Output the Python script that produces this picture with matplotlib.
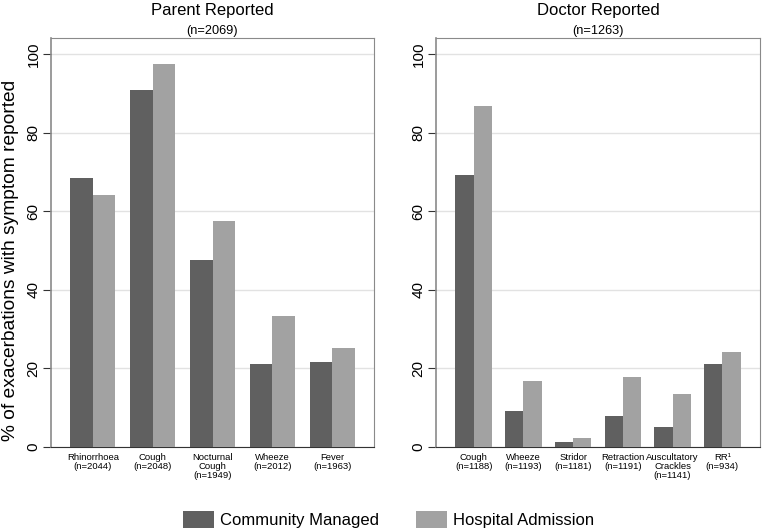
import matplotlib
matplotlib.use("Agg")
import matplotlib.pyplot as plt
import numpy as np
from matplotlib.patches import Patch

plt.rcParams['font.family'] = ['Liberation Sans', 'DejaVu Sans']

parent_labels = ["Rhinorrhoea\n(n=2044)", "Cough\n(n=2048)", "Nocturnal\nCough\n(n=1949)",
                 "Wheeze\n(n=2012)", "Fever\n(n=1963)"]
parent_cm = [68.4, 90.9, 47.6, 21.2, 21.6]
parent_ha = [64.1, 97.5, 57.5, 33.3, 25.2]

doctor_labels = ["Cough\n(n=1188)", "Wheeze\n(n=1193)", "Stridor\n(n=1181)", "Retraction\n(n=1191)",
                 "Auscultatory\nCrackles\n(n=1141)", "RR\u00b9\n(n=934)"]
doctor_cm = [69.3, 9.1, 1.2, 7.8, 5.1, 21.1]
doctor_ha = [86.9, 16.9, 2.2, 17.9, 13.5, 24.2]

yticks = [0, 20, 40, 60, 80, 100]
series_names = ["Community Managed", "Hospital Admission"]
c_cm = "#606060"
c_ha = "#a2a2a2"

fig = plt.figure(figsize=(7.62, 5.31), dpi=100)
W, H = 762, 531

def panel(rect, labels, cm, ha, title, sub, width, margin):
    ax = fig.add_axes(rect)
    x = np.arange(len(labels))
    ax.bar(x - width / 2, cm, width, color=c_cm, zorder=3)
    ax.bar(x + width / 2, ha, width, color=c_ha, zorder=3)
    ax.set_xlim(-margin, len(labels) - 1 + margin)
    ax.set_ylim(0, 104.1)
    ax.set_yticks(yticks)
    ax.set_yticklabels([str(v) for v in yticks], rotation=90, va='center', fontsize=11)
    ax.tick_params(axis='y', direction='out', length=6, width=0.8, color='#333333', pad=1.5)
    ax.set_xticks(x)
    ax.set_xticklabels(labels, fontsize=6.8, linespacing=1.0)
    ax.tick_params(axis='x', length=0, pad=4)
    ax.grid(axis='y', color='#e2e2e2', linewidth=1.0, zorder=0)
    for s in ax.spines.values():
        s.set_color('#8a8a8a')
        s.set_linewidth(0.8)
    ax.spines['left'].set_linewidth(1.2)
    ax.spines['bottom'].set_color('#333333')
    ax.set_title(sub, fontsize=9.2, pad=3)
    ax.text(0.5, 1.0 + 20 / 409, title, transform=ax.transAxes, ha='center', va='bottom',
            fontsize=12)
    return ax

ax1 = panel([51 / W, 84 / H, 323 / W, 409 / H], parent_labels, parent_cm, parent_ha,
            "Parent Reported", "(n=2069)", 0.376, 0.70)
ax2 = panel([436 / W, 84 / H, 324 / W, 409 / H], doctor_labels, doctor_cm, doctor_ha,
            "Doctor Reported", "(n=1263)", 0.368, 0.76)
ax1.set_ylabel("% of exacerbations with symptom reported", fontsize=13.8)
ax1.yaxis.set_label_coords(-32 / 323, 0.457)

handles = [Patch(facecolor=c_cm, edgecolor='none'), Patch(facecolor=c_ha, edgecolor='none')]
fig.legend(handles, series_names, loc='lower center', bbox_to_anchor=(0.51, -0.022), ncol=2,
           frameon=False, fontsize=12, handlelength=1.86, handleheight=1.2,
           columnspacing=2.2, handletextpad=0.36)

fig.savefig("out.png", dpi=100)
